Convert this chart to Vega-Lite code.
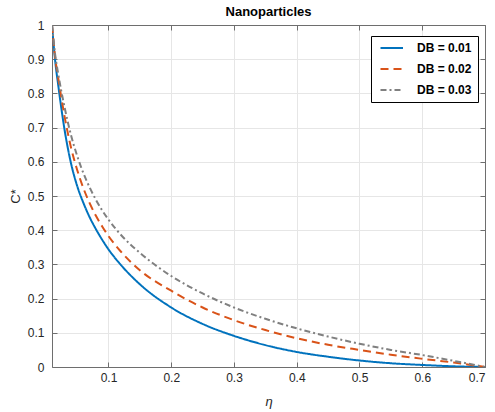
{
  "$schema": "https://vega.github.io/schema/vega-lite/v6.json",
  "autosize": "none",
  "width": 433,
  "height": 342,
  "padding": {"left": 52, "top": 25, "right": 10, "bottom": 45},
  "background": "white",
  "title": {"text": "Nanoparticles", "font": "Liberation Sans", "fontSize": 13, "fontWeight": "bold", "color": "#000000", "offset": 0},
  "config": {
    "view": {"stroke": null},
    "axis": {"labelFont": "Liberation Sans", "labelFontSize": 12, "labelColor": "#262626", "titleFont": "Liberation Sans", "titleFontSize": 13, "titleColor": "#262626", "titleFontWeight": "normal", "domainColor": "#6e6e6e", "tickColor": "#6e6e6e", "gridColor": "#e6e6e6", "tickSize": -5}
  },
  "data": {"values": [
    {"eta": 0.01, "c": 1.0, "s": "D_B = 0.01"},
    {"eta": 0.015, "c": 0.896, "s": "D_B = 0.01"},
    {"eta": 0.02, "c": 0.823, "s": "D_B = 0.01"},
    {"eta": 0.03, "c": 0.694, "s": "D_B = 0.01"},
    {"eta": 0.04, "c": 0.598, "s": "D_B = 0.01"},
    {"eta": 0.05, "c": 0.53, "s": "D_B = 0.01"},
    {"eta": 0.06, "c": 0.48, "s": "D_B = 0.01"},
    {"eta": 0.07, "c": 0.438, "s": "D_B = 0.01"},
    {"eta": 0.08, "c": 0.403, "s": "D_B = 0.01"},
    {"eta": 0.09, "c": 0.372, "s": "D_B = 0.01"},
    {"eta": 0.1, "c": 0.344, "s": "D_B = 0.01"},
    {"eta": 0.12, "c": 0.298, "s": "D_B = 0.01"},
    {"eta": 0.15, "c": 0.242, "s": "D_B = 0.01"},
    {"eta": 0.2, "c": 0.174, "s": "D_B = 0.01"},
    {"eta": 0.25, "c": 0.126, "s": "D_B = 0.01"},
    {"eta": 0.3, "c": 0.091, "s": "D_B = 0.01"},
    {"eta": 0.35, "c": 0.064, "s": "D_B = 0.01"},
    {"eta": 0.4, "c": 0.044, "s": "D_B = 0.01"},
    {"eta": 0.45, "c": 0.03, "s": "D_B = 0.01"},
    {"eta": 0.5, "c": 0.019, "s": "D_B = 0.01"},
    {"eta": 0.55, "c": 0.011, "s": "D_B = 0.01"},
    {"eta": 0.6, "c": 0.006, "s": "D_B = 0.01"},
    {"eta": 0.65, "c": 0.002, "s": "D_B = 0.01"},
    {"eta": 0.7, "c": 0.0, "s": "D_B = 0.01"},
    {"eta": 0.01, "c": 1.0, "s": "D_B = 0.02"},
    {"eta": 0.015, "c": 0.905, "s": "D_B = 0.02"},
    {"eta": 0.02, "c": 0.844, "s": "D_B = 0.02"},
    {"eta": 0.03, "c": 0.733, "s": "D_B = 0.02"},
    {"eta": 0.04, "c": 0.644, "s": "D_B = 0.02"},
    {"eta": 0.05, "c": 0.577, "s": "D_B = 0.02"},
    {"eta": 0.06, "c": 0.523, "s": "D_B = 0.02"},
    {"eta": 0.07, "c": 0.479, "s": "D_B = 0.02"},
    {"eta": 0.08, "c": 0.442, "s": "D_B = 0.02"},
    {"eta": 0.09, "c": 0.411, "s": "D_B = 0.02"},
    {"eta": 0.1, "c": 0.383, "s": "D_B = 0.02"},
    {"eta": 0.12, "c": 0.337, "s": "D_B = 0.02"},
    {"eta": 0.15, "c": 0.283, "s": "D_B = 0.02"},
    {"eta": 0.2, "c": 0.223, "s": "D_B = 0.02"},
    {"eta": 0.25, "c": 0.174, "s": "D_B = 0.02"},
    {"eta": 0.3, "c": 0.137, "s": "D_B = 0.02"},
    {"eta": 0.35, "c": 0.108, "s": "D_B = 0.02"},
    {"eta": 0.4, "c": 0.084, "s": "D_B = 0.02"},
    {"eta": 0.45, "c": 0.065, "s": "D_B = 0.02"},
    {"eta": 0.5, "c": 0.05, "s": "D_B = 0.02"},
    {"eta": 0.55, "c": 0.036, "s": "D_B = 0.02"},
    {"eta": 0.6, "c": 0.024, "s": "D_B = 0.02"},
    {"eta": 0.65, "c": 0.013, "s": "D_B = 0.02"},
    {"eta": 0.7, "c": 0.0, "s": "D_B = 0.02"},
    {"eta": 0.01, "c": 1.0, "s": "D_B = 0.03"},
    {"eta": 0.015, "c": 0.914, "s": "D_B = 0.03"},
    {"eta": 0.02, "c": 0.856, "s": "D_B = 0.03"},
    {"eta": 0.03, "c": 0.76, "s": "D_B = 0.03"},
    {"eta": 0.04, "c": 0.68, "s": "D_B = 0.03"},
    {"eta": 0.05, "c": 0.618, "s": "D_B = 0.03"},
    {"eta": 0.06, "c": 0.567, "s": "D_B = 0.03"},
    {"eta": 0.07, "c": 0.525, "s": "D_B = 0.03"},
    {"eta": 0.08, "c": 0.489, "s": "D_B = 0.03"},
    {"eta": 0.09, "c": 0.458, "s": "D_B = 0.03"},
    {"eta": 0.1, "c": 0.431, "s": "D_B = 0.03"},
    {"eta": 0.12, "c": 0.386, "s": "D_B = 0.03"},
    {"eta": 0.15, "c": 0.334, "s": "D_B = 0.03"},
    {"eta": 0.2, "c": 0.266, "s": "D_B = 0.03"},
    {"eta": 0.25, "c": 0.215, "s": "D_B = 0.03"},
    {"eta": 0.3, "c": 0.174, "s": "D_B = 0.03"},
    {"eta": 0.35, "c": 0.141, "s": "D_B = 0.03"},
    {"eta": 0.4, "c": 0.113, "s": "D_B = 0.03"},
    {"eta": 0.45, "c": 0.089, "s": "D_B = 0.03"},
    {"eta": 0.5, "c": 0.068, "s": "D_B = 0.03"},
    {"eta": 0.55, "c": 0.05, "s": "D_B = 0.03"},
    {"eta": 0.6, "c": 0.035, "s": "D_B = 0.03"},
    {"eta": 0.65, "c": 0.018, "s": "D_B = 0.03"},
    {"eta": 0.7, "c": 0.0, "s": "D_B = 0.03"}
  ]},
  "layer": [
    {
      "mark": {"type": "line", "strokeWidth": 2, "interpolate": "monotone", "clip": true},
      "encoding": {
        "x": {"field": "eta", "type": "quantitative", "scale": {"domain": [0.01, 0.7], "nice": false, "zero": false},
              "axis": {"orient": "bottom", "values": [0.1, 0.2, 0.3, 0.4, 0.5, 0.6, 0.7], "format": "~g", "title": "η", "titleFontStyle": "italic", "labelPadding": 10, "titlePadding": 12, "grid": true}},
        "y": {"field": "c", "type": "quantitative", "scale": {"domain": [0, 1], "nice": false},
              "axis": {"orient": "left", "values": [0, 0.1, 0.2, 0.3, 0.4, 0.5, 0.6, 0.7, 0.8, 0.9, 1], "format": "~g", "title": "C*", "labelPadding": 13, "titlePadding": 5, "grid": true}},
        "color": {"field": "s", "type": "nominal", "scale": {"range": ["#0072BD", "#D95319", "#808080"]},
                  "legend": {"title": null, "orient": "none", "legendX": 319, "legendY": 11, "labelExpr": "replace(datum.label, '_', '')", "labelFont": "Liberation Sans", "labelFontSize": 12, "labelFontWeight": "bold", "labelColor": "#000000", "symbolType": "M-0.5,0H4", "symbolSize": 100, "symbolStrokeWidth": 2, "labelOffset": 28, "strokeColor": "#000000", "fillColor": "#ffffff", "padding": 6, "rowPadding": 9, "cornerRadius": 0}},
        "strokeDash": {"field": "s", "type": "nominal", "scale": {"range": [[1, 0], [8, 5], [6, 3, 2, 3]]}}
      }
    },
    {
      "mark": {"type": "line", "opacity": 0},
      "encoding": {
        "x": {"field": "eta", "type": "quantitative", "axis": {"orient": "top", "values": [0.1, 0.2, 0.3, 0.4, 0.5, 0.6, 0.7], "labels": false, "title": null, "grid": false}},
        "y": {"field": "c", "type": "quantitative", "axis": {"orient": "right", "values": [0, 0.1, 0.2, 0.3, 0.4, 0.5, 0.6, 0.7, 0.8, 0.9, 1], "labels": false, "title": null, "grid": false}},
        "detail": {"field": "s"}
      }
    }
  ],
  "resolve": {"axis": {"x": "independent", "y": "independent"}}
}
